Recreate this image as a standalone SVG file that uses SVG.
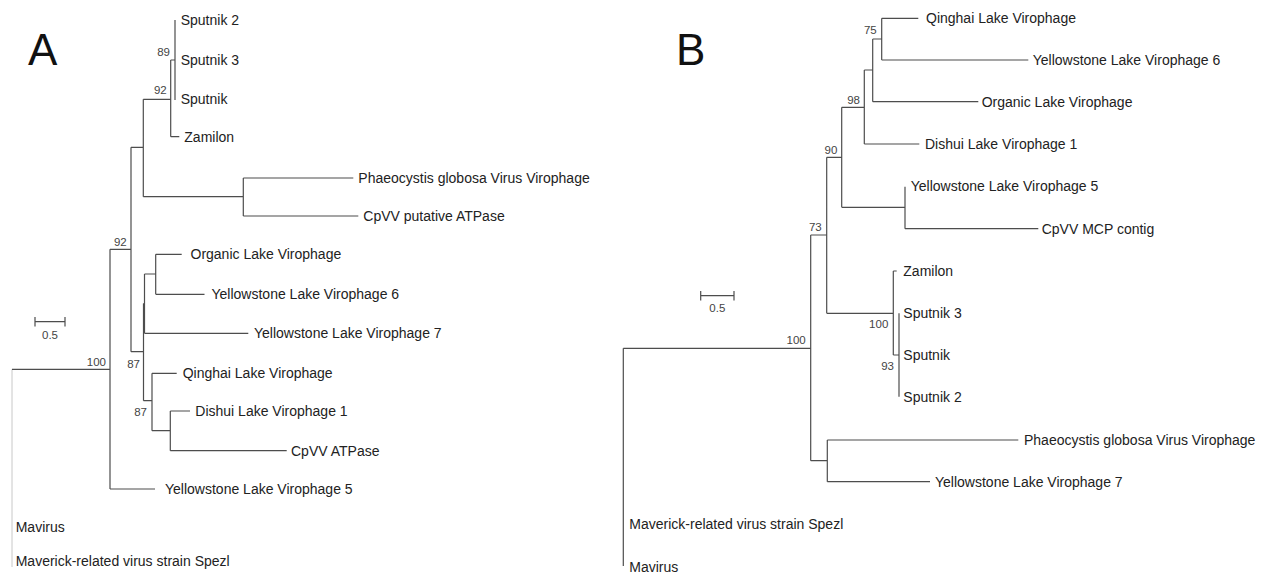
<svg xmlns="http://www.w3.org/2000/svg" width="1262" height="575" viewBox="0 0 1262 575">
<style>
.br{fill:none;stroke:#4d4d4d;stroke-width:1.2}
.lt{fill:none;stroke:#c8c8c8;stroke-width:1}
.tip{font-family:"Liberation Sans",Arial,sans-serif;font-size:14px;fill:#222}
.bs{font-family:"Liberation Sans",Arial,sans-serif;font-size:11.5px;fill:#444;text-anchor:end}
.sc{font-family:"Liberation Sans",Arial,sans-serif;font-size:11.5px;fill:#444;text-anchor:middle}
.pl{font-family:"Liberation Sans",Arial,sans-serif;font-size:44px;fill:#111}
</style>
<rect width="1262" height="575" fill="#fff"/>
<g id="panel-A">
<text class="pl" x="28" y="65">A</text>
<g id="connectors-A">
<path class="lt" d="M12,369.3 V567"/>
<path class="br" d="M12,369.3 H110 M110,249.3 V489 M110,489 H155 M110,249.3 H131 M131,147.3 V351.7 M131,147.3 H143.3 M143.3,99.3 V196.7 M143.3,99.3 H170.7 M170.7,60 V136.7 M170.7,136.7 H179.3 M170.7,60 H175 M175,20 V100 M143.3,196.7 H243.3 M243.3,178 V216 M243.3,178 H353.3 M243.3,216 H358.3 M131,351.7 H143.5 M143.5,303.5 V400.7 M143.5,303.5 H144.5 M144.5,274 V333.3 M144.5,274 H155.7 M155.7,254.3 V294.3 M155.7,254.3 H181.7 M155.7,294.3 H204.5 M144.5,333.3 H248.3 M143.5,400.7 H152 M152,373.3 V430.7 M152,373.3 H176.7 M152,430.7 H170.3 M170.3,411 V450.7 M170.3,411 H190 M170.3,450.7 H286.7"/>
</g>
<g id="bootstrap-A">
<text class="bs" x="170" y="56">89</text>
<text class="bs" x="166.7" y="94">92</text>
<text class="bs" x="126.7" y="245.5">92</text>
<text class="bs" x="106" y="365.5">100</text>
<text class="bs" x="140" y="367.5">87</text>
<text class="bs" x="147" y="416">87</text>
</g>
<g id="scale-A">
<path class="br" d="M35,321.7 H65 M35,317 V326.5 M65,317 V326.5"/>
<text class="sc" x="50" y="338.5">0.5</text>
</g>
<g id="A-sputnik2"><text class="tip" x="180.7" y="25">Sputnik 2</text></g>
<g id="A-sputnik3"><text class="tip" x="180.7" y="65">Sputnik 3</text></g>
<g id="A-sputnik"><text class="tip" x="180.7" y="104">Sputnik</text></g>
<g id="A-zamilon"><text class="tip" x="184.3" y="142">Zamilon</text></g>
<g id="A-phaeocystis"><text class="tip" x="358.3" y="183">Phaeocystis globosa Virus Virophage</text></g>
<g id="A-cpvv-putative"><text class="tip" x="363.3" y="221">CpVV putative ATPase</text></g>
<g id="A-organic"><text class="tip" x="190.5" y="259.3">Organic Lake Virophage</text></g>
<g id="A-ylv6"><text class="tip" x="211.5" y="299.3">Yellowstone Lake Virophage 6</text></g>
<g id="A-ylv7"><text class="tip" x="254" y="338.3">Yellowstone Lake Virophage 7</text></g>
<g id="A-qinghai"><text class="tip" x="182.7" y="378.3">Qinghai Lake Virophage</text></g>
<g id="A-dishui"><text class="tip" x="195.3" y="416">Dishui Lake Virophage 1</text></g>
<g id="A-cpvv-atpase"><text class="tip" x="291" y="455.7">CpVV ATPase</text></g>
<g id="A-ylv5"><text class="tip" x="165" y="494">Yellowstone Lake Virophage 5</text></g>
<g id="A-mavirus"><text class="tip" x="15.7" y="531.5">Mavirus</text></g>
<g id="A-maverick"><text class="tip" x="15.7" y="566">Maverick-related virus strain Spezl</text></g>
</g>
<g id="panel-B">
<text class="pl" x="676" y="65">B</text>
<g id="connectors-B">
<path class="br" d="M623.3,348.3 H810.7 M623.3,348.3 V566 M810.7,235 V460.7 M810.7,235 H826.7 M826.7,157.3 V313.3 M826.7,157.3 H841.7 M841.7,107.3 V207.3 M841.7,107.3 H864.3 M864.3,70 V144 M864.3,70 H872.7 M872.7,39 V101.7 M872.7,39 H881.7 M881.7,18.3 V60 M881.7,18.3 H918.3 M881.7,60 H1028.3 M872.7,101.7 H978.3 M864.3,144 H919.3 M841.7,207.3 H905 M905,186.7 V228.7 M905,228.7 H1038.3 M826.7,313.3 H893.3 M893.3,271 V355 M893.3,271 H896.7 M893.3,355 H899 M899,313.3 V396.7 M810.7,460.7 H827.3 M827.3,440 V481.7 M827.3,440 H1018.3 M827.3,481.7 H930"/>
</g>
<g id="bootstrap-B">
<text class="bs" x="876.7" y="34">75</text>
<text class="bs" x="860" y="103.5">98</text>
<text class="bs" x="837.3" y="153.5">90</text>
<text class="bs" x="821.7" y="231">73</text>
<text class="bs" x="805.7" y="343.5">100</text>
<text class="bs" x="888.3" y="328">100</text>
<text class="bs" x="894" y="370">93</text>
</g>
<g id="scale-B">
<path class="br" d="M700.7,295.7 H734 M700.7,291 V300.5 M734,291 V300.5"/>
<text class="sc" x="717.3" y="311.7">0.5</text>
</g>
<g id="B-qinghai"><text class="tip" x="926" y="23.3">Qinghai Lake Virophage</text></g>
<g id="B-ylv6"><text class="tip" x="1032.7" y="65">Yellowstone Lake Virophage 6</text></g>
<g id="B-organic"><text class="tip" x="981.7" y="106.7">Organic Lake Virophage</text></g>
<g id="B-dishui"><text class="tip" x="925" y="149">Dishui Lake Virophage 1</text></g>
<g id="B-ylv5"><text class="tip" x="910.7" y="190.7">Yellowstone Lake Virophage 5</text></g>
<g id="B-cpvv-mcp"><text class="tip" x="1041.7" y="233.5">CpVV MCP contig</text></g>
<g id="B-zamilon"><text class="tip" x="903.3" y="276">Zamilon</text></g>
<g id="B-sputnik3"><text class="tip" x="903.3" y="318">Sputnik 3</text></g>
<g id="B-sputnik"><text class="tip" x="903.3" y="360">Sputnik</text></g>
<g id="B-sputnik2"><text class="tip" x="903.3" y="401.7">Sputnik 2</text></g>
<g id="B-phaeocystis"><text class="tip" x="1024" y="445">Phaeocystis globosa Virus Virophage</text></g>
<g id="B-ylv7"><text class="tip" x="935" y="486.7">Yellowstone Lake Virophage 7</text></g>
<g id="B-maverick"><text class="tip" x="629.3" y="528.7">Maverick-related virus strain Spezl</text></g>
<g id="B-mavirus"><text class="tip" x="629.3" y="571.5">Mavirus</text></g>
</g>
</svg>
